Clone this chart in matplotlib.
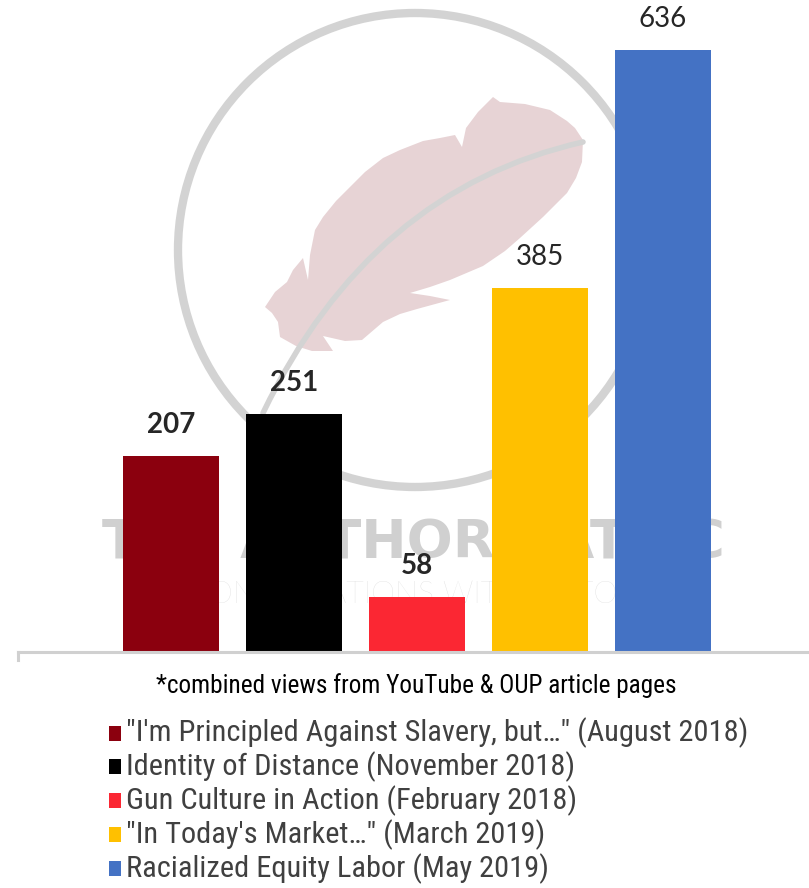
import matplotlib
matplotlib.use("Agg")
import matplotlib.pyplot as plt
from matplotlib.patches import Circle, Polygon, Rectangle, PathPatch
from matplotlib.path import Path
from matplotlib.font_manager import fontManager

titles = ['"I\'m Principled Against Slavery, but\u2026" (August 2018)',
          'Identity of Distance (November 2018)',
          'Gun Culture in Action (February 2018)',
          '"In Today\'s Market\u2026" (March 2019)',
          'Racialized Equity Labor (May 2019)']
views = [207, 251, 58, 385, 636]
colors = ['#8b000e', '#000000', '#fb2733', '#ffc000', '#4472c4']
bold_label = [True, True, True, False, False]
note = '*combined views from YouTube & OUP article pages'

W, H = 809, 888
fig = plt.figure(figsize=(W / 100, H / 100), dpi=100)

# condensed face for the legend if one is around
names = {f.name for f in fontManager.ttflist}
narrow = 'Liberation Sans'
for cand in ['Liberation Sans Narrow', 'Roboto Condensed', 'Open Sans Condensed',
             'DejaVu Sans Condensed']:
    if cand in names:
        narrow = cand
        break
size_scale = 1.0 if narrow == 'Liberation Sans' else 1.15

# background logo, drawn in pixel units
bg = fig.add_axes([0, 0, 1, 1])
bg.set_xlim(0, W)
bg.set_ylim(H, 0)
bg.axis('off')
bg.add_patch(Circle((415, 250), 237, fill=False, ec='#d3d3d3', lw=6))
feather = [(583, 140), (575, 128), (567, 121), (550, 110), (525, 104), (500, 102),
           (493, 97), (478, 112), (466, 128), (462, 147), (455, 135), (440, 138),
           (423, 141), (400, 150), (383, 158), (365, 172), (350, 187), (336, 201),
           (323, 217), (315, 230), (310, 255), (308, 280), (303, 258), (293, 270),
           (287, 282), (275, 292), (265, 307), (272, 313), (278, 322), (280, 337),
           (296, 346), (312, 351), (333, 351), (323, 336), (345, 341), (362, 340),
           (383, 322), (400, 314), (417, 309), (450, 300), (430, 296), (410, 293),
           (430, 287), (450, 280), (483, 266), (505, 251), (520, 238), (543, 217),
           (567, 193), (576, 178), (582, 162)]
bg.add_patch(Polygon(feather, closed=True, fc='#e7d3d5', ec='none'))
quill = Path([(583, 142), (370, 190), (263, 413)], [Path.MOVETO, Path.CURVE3, Path.CURVE3])
bg.add_patch(PathPatch(quill, fc='none', ec='#d3d3d3', lw=4, capstyle='round'))
bg.text(413, 543, 'THE AUTHORS ATTIC', ha='center', va='center', fontsize=39,
        fontweight='bold', color='#d0d0d0', family='DejaVu Sans')
bg.text(420, 594, 'CONVERSATIONS WITH HISTORY', ha='center', va='center', fontsize=22,
        fontweight='light', color='#dadada', family='Lato')

# bar chart
ax = fig.add_axes([18 / W, (H - 652) / H, 1 - 18 / W, 652 / H])
ax.patch.set_alpha(0)
x = list(range(len(views)))
bars = ax.bar(x, views, width=96 / 123, color=colors, zorder=2)
ax.set_xlim((18 - 171) / 123, (W - 171) / 123)
ax.set_ylim(0, 652 / 0.9465)
for side in ['top', 'right', 'left']:
    ax.spines[side].set_visible(False)
ax.spines['bottom'].set_color('#d0d0d0')
ax.spines['bottom'].set_linewidth(2.2)
ax.set_xticks([])
ax.set_yticks([])
ax.plot([(18 - 171) / 123] * 2, [0, -8 / 0.9465], color='#d0d0d0', lw=2.2,
        clip_on=False)

for b, v, bold in zip(bars, views, bold_label):
    ax.annotate(str(v), (b.get_x() + b.get_width() / 2, v), xytext=(0, 31),
                textcoords='offset pixels', ha='center', va='center',
                fontsize=20, family='Lato', color='#262626',
                fontweight='bold' if bold else 'normal')

fig.text(416 / W, 1 - 686 / H, note, ha='center', va='center',
         fontsize=15.8 * size_scale, family=narrow, color='#000000')

# legend
for i, (t, c) in enumerate(zip(titles, colors)):
    yc = 733 + i * 33.8
    fig.patches.append(Rectangle((109 / W, 1 - (yc + 7.5) / H), 12 / W, 15 / H,
                                 transform=fig.transFigure, fc=c, ec='none'))
    fig.text(126 / W, 1 - yc / H, t, ha='left', va='center',
             fontsize=19 * size_scale, family=narrow, color='#404040')

fig.savefig('out.png', dpi=100)
